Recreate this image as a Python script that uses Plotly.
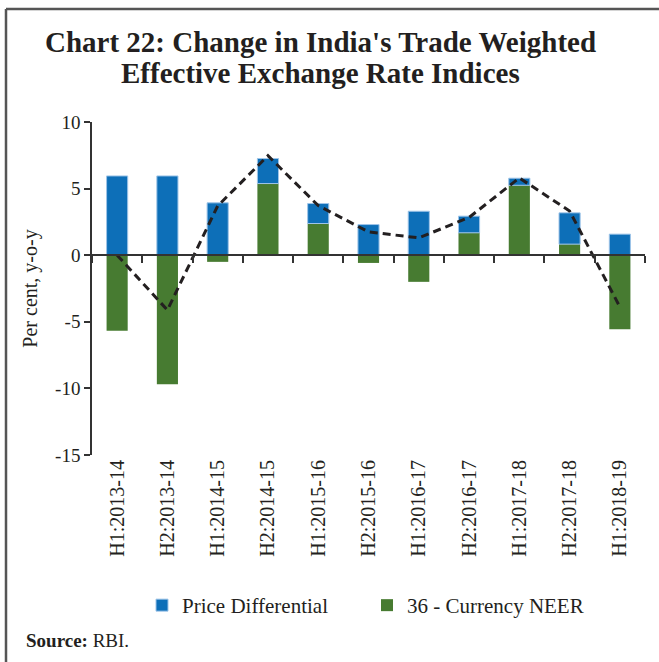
import plotly.graph_objects as go

# ---- data ----
categories = ["H1:2013-14", "H2:2013-14", "H1:2014-15", "H2:2014-15", "H1:2015-16",
              "H2:2015-16", "H1:2016-17", "H2:2016-17", "H1:2017-18", "H2:2017-18",
              "H1:2018-19"]
price_diff = [5.95, 5.95, 3.93, 1.88, 1.50, 2.30, 3.30, 1.25, 0.53, 2.35, 1.58]
neer36 = [-5.68, -9.68, -0.50, 5.38, 2.38, -0.58, -2.00, 1.68, 5.25, 0.83, -5.55]
reer36 = [0.0, -4.12, 3.70, 7.47, 3.72, 1.75, 1.30, 2.83, 5.80, 3.32, -3.88]
y_ticks = [10, 5, 0, -5, -10, -15]

# ---- layout geometry ----
W, H = 659, 662
ML, MR, MT, MB = 92, 14, 122, 207
PW, PH = W - ML - MR, H - MT - MB
YMIN, YMAX = -15, 10

def px_x(px):
    return (px - ML) / PW

def px_y(py):
    return (H - MB - py) / PH

SERIF = "Liberation Serif"
TXT = "#231f20"
BLUE = "#0d6fb8"
GREEN = "#477b31"

fig = go.Figure()
fig.add_trace(go.Bar(
    x=categories, y=neer36, name="36 - Currency NEER",
    marker=dict(color=GREEN, line=dict(width=0)),
    width=0.42, legendrank=2,
))
fig.add_trace(go.Bar(
    x=categories, y=price_diff, name="Price Differential",
    marker=dict(color=BLUE, line=dict(color="#9ec4e8", width=1)),
    width=0.42, legendrank=1,
))
fig.add_trace(go.Scatter(
    x=categories, y=reer36, name="36 - Currency REER", mode="lines",
    line=dict(color=TXT, width=3, dash="8px,5px"),
    xaxis="x2", showlegend=False,
))

zero_pos = (0 - YMIN) / (YMAX - YMIN)

fig.update_layout(
    width=W, height=H,
    margin=dict(l=ML, r=MR, t=MT, b=MB),
    paper_bgcolor="white", plot_bgcolor="white",
    barmode="relative",
    font=dict(family=SERIF, color=TXT),
    xaxis=dict(
        type="category", categoryarray=categories, range=[-0.5, 10.5],
        showline=False, ticks="", showgrid=False, zeroline=False,
        tickangle=-90, tickfont=dict(size=20, color=TXT),
    ),
    xaxis2=dict(
        type="category", categoryarray=categories, range=[-0.5, 10.5],
        overlaying="x", anchor="free", position=zero_pos,
        showline=True, linecolor="#333333", linewidth=1.5,
        ticks="outside", tickson="boundaries", ticklen=7, tickwidth=1.5,
        tickcolor="#333333", showticklabels=False, showgrid=False, zeroline=False,
    ),
    yaxis=dict(
        range=[YMIN, YMAX], tickvals=y_ticks, ticktext=[str(v) for v in y_ticks],
        showline=True, linecolor="#333333", linewidth=1.5,
        ticks="outside", ticklen=6, tickwidth=1.5, tickcolor="#333333",
        showgrid=False, zeroline=False,
        tickfont=dict(size=19, color=TXT),
        title=dict(text="Per cent, y-o-y", font=dict(size=20, color=TXT), standoff=12),
    ),
    legend=dict(
        orientation="h", xref="container", yref="container",
        x=142 / W, xanchor="left", y=1 - 605.5 / H, yanchor="middle",
        font=dict(size=21, color=TXT), entrywidth=180, entrywidthmode="pixels",
        traceorder="normal", bgcolor="rgba(0,0,0,0)",
    ),
    showlegend=True,
)

# two-line title
fig.add_annotation(
    text="<b>Chart 22: Change in India's Trade Weighted</b>",
    xref="paper", yref="paper", x=px_x(W / 2 - 9), y=px_y(42),
    xanchor="center", yanchor="middle", showarrow=False,
    font=dict(family=SERIF, size=29, color=TXT),
)
fig.add_annotation(
    text="<b>Effective Exchange Rate Indices</b>",
    xref="paper", yref="paper", x=px_x(W / 2 - 9), y=px_y(73),
    xanchor="center", yanchor="middle", showarrow=False,
    font=dict(family=SERIF, size=29, color=TXT),
)

fig.add_annotation(
    text="<b>Source:</b> RBI.", xref="paper", yref="paper",
    x=px_x(24), y=px_y(640), xanchor="left", yanchor="middle",
    showarrow=False, font=dict(family=SERIF, size=19, color=TXT),
)

# frame (top and left edges of the boxed exhibit)
fig.add_shape(type="line", xref="paper", yref="paper",
              x0=px_x(6), x1=px_x(W + 5), y0=px_y(9), y1=px_y(9),
              line=dict(color="#555555", width=2.5))
fig.add_shape(type="line", xref="paper", yref="paper",
              x0=px_x(6), x1=px_x(6), y0=px_y(9), y1=px_y(H + 5),
              line=dict(color="#555555", width=2.5))

fig.write_html("out.html",
               config={"displayModeBar": False},
               post_script="document.body.style.margin='0px';document.body.style.overflow='hidden';")
